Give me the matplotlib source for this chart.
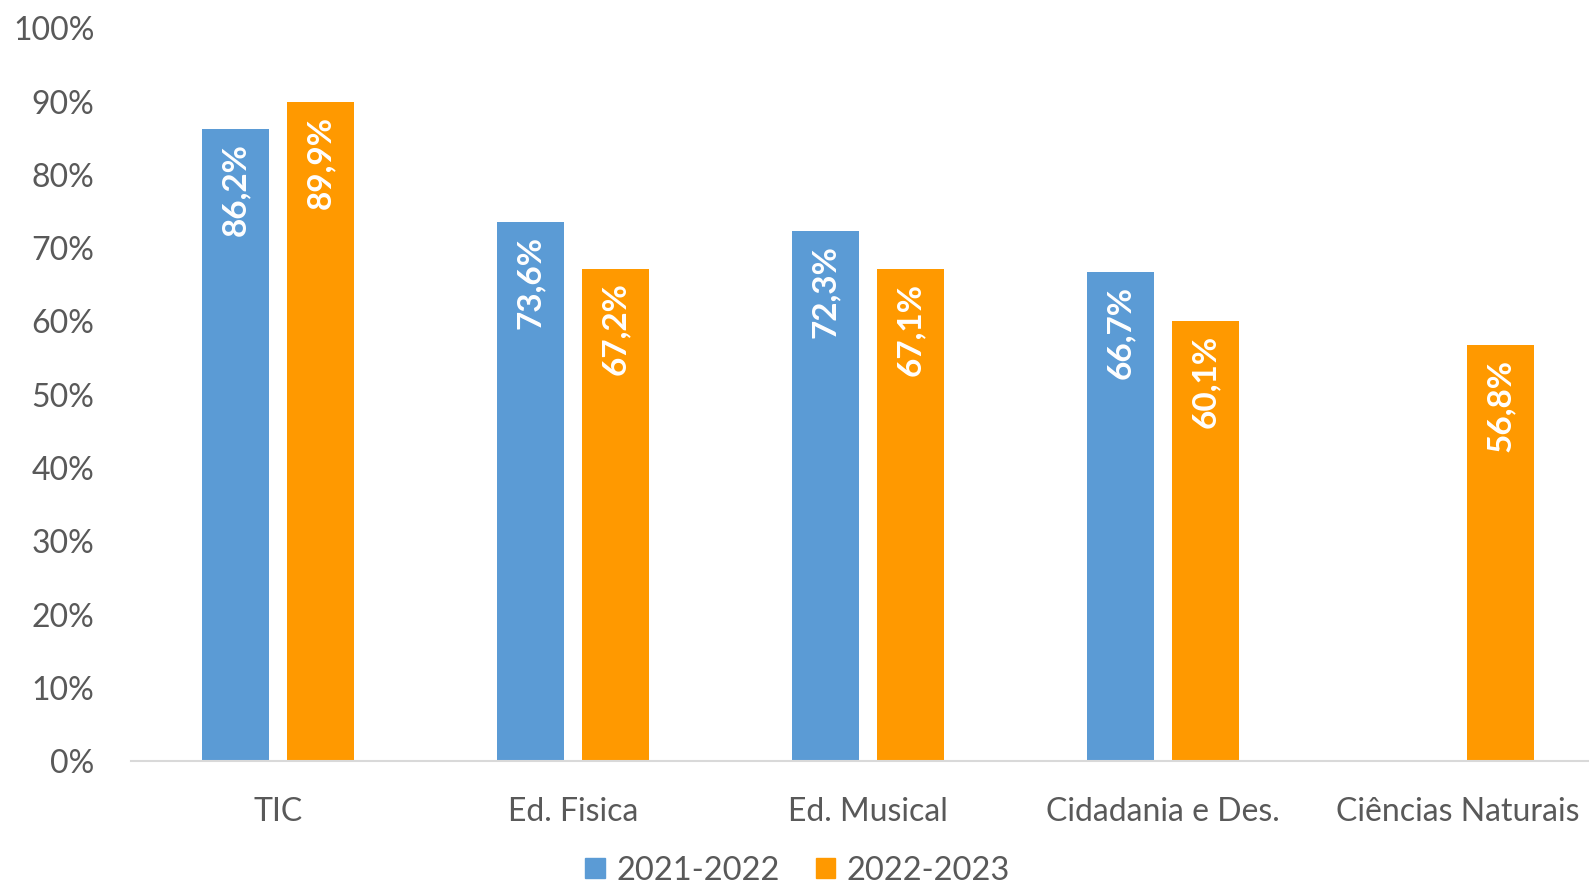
import matplotlib
matplotlib.use("Agg")
import matplotlib.pyplot as plt
import numpy as np
from matplotlib.patches import Patch

categories = ["TIC", "Ed. Fisica", "Ed. Musical", "Cidadania e Des.", "Ciências Naturais"]
series_names = ["2021-2022", "2022-2023"]
values_2021 = [86.2, 73.6, 72.3, 66.7, np.nan]
values_2022 = [89.9, 67.2, 67.1, 60.1, 56.8]
yticks = [0, 10, 20, 30, 40, 50, 60, 70, 80, 90, 100]

colors = ["#5B9BD5", "#FF9900"]
text_color = "#595959"

plt.rcParams['font.family'] = ['Lato', 'DejaVu Sans']

fig = plt.figure(figsize=(15.89, 8.84), dpi=100)
ax = fig.add_axes([0.0822, 0.139, 0.928, 0.829])

x = np.arange(len(categories))
w = 0.226
off = 0.144
for vals, color, sgn in [(values_2021, colors[0], -1), (values_2022, colors[1], 1)]:
    for xi, v in zip(x, vals):
        if np.isnan(v):
            continue
        ax.bar(xi + sgn * off, v, width=w, color=color)
        ax.annotate(f"{v:.1f}%".replace(".", ","), xy=(xi + sgn * off, v),
                    xytext=(0, -10), textcoords="offset points",
                    rotation=90, ha="center", va="top", color="white",
                    fontsize=24, fontweight="bold")

ax.set_xlim(-0.5, len(categories) - 0.5)
ax.set_ylim(0, 100)
ax.set_yticks(yticks)
ax.set_yticklabels([f"{t}%" for t in yticks])
ax.set_xticks(x)
ax.set_xticklabels(categories)
ax.tick_params(axis="both", length=0, labelsize=23, colors=text_color)
ax.tick_params(axis="y", pad=26)
ax.tick_params(axis="x", pad=26)
for s in ["top", "right", "left"]:
    ax.spines[s].set_visible(False)
ax.spines["bottom"].set_color("#D9D9D9")
ax.spines["bottom"].set_linewidth(1.5)
ax.spines["bottom"].set_clip_on(False)

handles = [Patch(color=c) for c in colors]
fig.legend(handles, series_names, loc="lower center", bbox_to_anchor=(0.502, -0.035),
           ncol=2, frameon=False, fontsize=23.5, labelcolor=text_color,
           handlelength=0.6, handleheight=0.6, handletextpad=0.35, columnspacing=1.1)

fig.savefig("out.png", dpi=100)
